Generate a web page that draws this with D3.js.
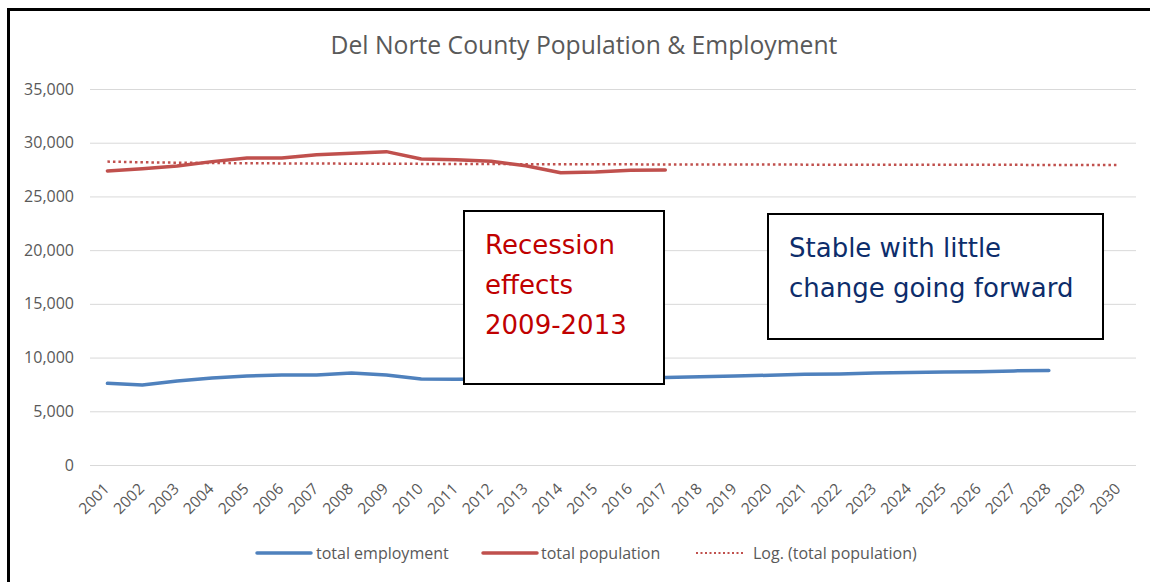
<!DOCTYPE html>
<html>
<head>
<meta charset="utf-8">
<script src="https://cdn.jsdelivr.net/npm/d3@7"></script>
<style>
  body { margin: 0; background: #fff; }
  svg { display: block; }
</style>
</head>
<body>
<div id="chart"></div>
<script>
const years = d3.range(2001, 2031).map(String);

const employment = [7600, 7450, 7820, 8100, 8290, 8380, 8380, 8560, 8380, 8010,
  7980, 8000, 8000, 8020, 8060, 8100, 8140, 8210, 8280, 8360,
  8440, 8480, 8560, 8600, 8650, 8680, 8760, 8790];

const population = [27370, 27580, 27830, 28240, 28580, 28580, 28890, 29020, 29170, 28490,
  28420, 28270, 27860, 27210, 27280, 27430, 27460];

const popTrend = [28240, 28180, 28140, 28110, 28090, 28075, 28060, 28050, 28040, 28030,
  28020, 28010, 28005, 28000, 27990, 27985, 27980, 27975, 27970, 27965,
  27960, 27955, 27952, 27948, 27945, 27942, 27938, 27935, 27932, 27930];

const yTicks = [0, 5000, 10000, 15000, 20000, 25000, 30000, 35000];

const W = 1150, H = 582;
const font = '"Open Sans", "Noto Sans", sans-serif';
const grey = '#595959';

const svg = d3.select('#chart').append('svg')
  .attr('width', W)
  .attr('height', H);

svg.append('rect')
  .attr('x', 8.5).attr('y', 9.5)
  .attr('width', 1160).attr('height', 600)
  .attr('fill', '#fff')
  .attr('stroke', '#000')
  .attr('stroke-width', 3);

const x = d3.scaleBand()
  .domain(years)
  .range([90, 1136]);

const y = d3.scaleLinear()
  .domain([0, 35000])
  .range([465, 89]);

const cx = d => x(d) + x.bandwidth() / 2;

// gridlines + y labels
const yAxis = svg.append('g')
  .attr('transform', 'translate(90,0)')
  .call(d3.axisLeft(y).tickValues(yTicks).tickSize(-1046).tickPadding(16).tickFormat(d3.format(',')));
yAxis.select('.domain').remove();
yAxis.selectAll('.tick line').attr('stroke', '#d9d9d9').attr('stroke-width', 1);
yAxis.selectAll('.tick text')
  .attr('fill', grey)
  .attr('font-family', font)
  .attr('font-size', 16);

// x labels
svg.append('g')
  .selectAll('text')
  .data(years)
  .enter().append('text')
  .attr('transform', d => 'translate(' + (cx(d) - 1) + ',486) rotate(-45)')
  .attr('text-anchor', 'end')
  .attr('dy', '0.35em')
  .attr('fill', grey)
  .attr('font-family', font)
  .attr('font-size', 15.5)
  .text(d => d);

// title
svg.append('text')
  .attr('x', 584)
  .attr('y', 54)
  .attr('text-anchor', 'middle')
  .attr('fill', grey)
  .attr('font-family', font)
  .attr('font-size', 24.7)
  .text('Del Norte County Population & Employment');

const line = d3.line()
  .x((d, i) => cx(years[i]))
  .y(d => y(d));

svg.append('path')
  .datum(popTrend)
  .attr('d', line)
  .attr('fill', 'none')
  .attr('stroke', '#C0504D')
  .attr('stroke-width', 2.5)
  .attr('stroke-dasharray', '2.5,3');

svg.append('path')
  .datum(employment)
  .attr('d', line)
  .attr('fill', 'none')
  .attr('stroke', '#4F81BD')
  .attr('stroke-width', 3.5)
  .attr('stroke-linejoin', 'round')
  .attr('stroke-linecap', 'round');

svg.append('path')
  .datum(population)
  .attr('d', line)
  .attr('fill', 'none')
  .attr('stroke', '#C0504D')
  .attr('stroke-width', 3.5)
  .attr('stroke-linejoin', 'round')
  .attr('stroke-linecap', 'round');

// annotation boxes
const boxes = [
  { x: 464, y: 211, w: 200, h: 173, color: '#C00000', lines: ['Recession', 'effects', '2009-2013'], tx: 485, ty: 254 },
  { x: 768, y: 214, w: 335, h: 125, color: '#0D2D6B', lines: ['Stable with little', 'change going forward'], tx: 789, ty: 257 }
];
boxes.forEach(b => {
  svg.append('rect')
    .attr('x', b.x).attr('y', b.y)
    .attr('width', b.w).attr('height', b.h)
    .attr('fill', '#fff')
    .attr('stroke', '#000')
    .attr('stroke-width', 2);
  svg.append('g')
    .selectAll('text')
    .data(b.lines)
    .enter().append('text')
    .attr('x', b.tx)
    .attr('y', (d, i) => b.ty + i * 40)
    .attr('fill', b.color)
    .attr('font-family', 'Verdana, "DejaVu Sans", sans-serif')
    .attr('font-size', 26)
    .text(d => d);
});

// legend
const legend = [
  { label: 'total employment', color: '#4F81BD', dash: null, x1: 257, x2: 311, tx: 316 },
  { label: 'total population', color: '#C0504D', dash: null, x1: 483, x2: 537, tx: 541 },
  { label: 'Log. (total population)', color: '#C0504D', dash: '2,2.5', x1: 696, x2: 744, tx: 753 }
];
const lg = svg.append('g');
legend.forEach(l => {
  lg.append('line')
    .attr('x1', l.x1).attr('x2', l.x2)
    .attr('y1', 553).attr('y2', 553)
    .attr('stroke', l.color)
    .attr('stroke-width', l.dash ? 2 : 3.5)
    .attr('stroke-linecap', l.dash ? 'butt' : 'round')
    .attr('stroke-dasharray', l.dash);
  lg.append('text')
    .attr('x', l.tx)
    .attr('y', 553)
    .attr('dy', '0.35em')
    .attr('fill', grey)
    .attr('font-family', font)
    .attr('font-size', 16)
    .text(l.label);
});
</script>
</body>
</html>
